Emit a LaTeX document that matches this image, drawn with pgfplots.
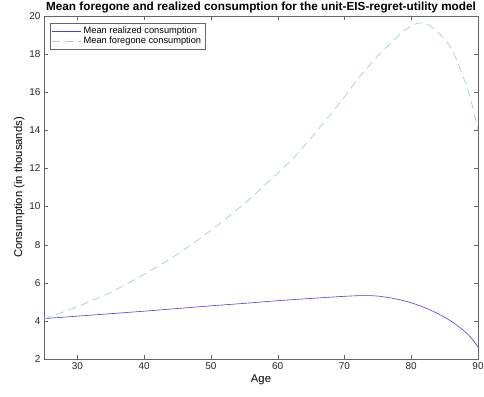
\documentclass[border=0pt]{standalone}
\usepackage{pgfplots}
\pgfplotsset{compat=1.18}
\usepackage{fontspec}
\setmainfont{Liberation Sans}
\definecolor{realc}{rgb}{0.25,0.25,0.92}
\definecolor{forec}{rgb}{0.65,0.79,0.94}
\begin{document}
\begin{tikzpicture}
\begin{axis}[
  scale only axis,
  width=434bp, height=343bp,
  xmin=25, xmax=90, ymin=2, ymax=20,
  xtick={30,40,50,60,70,80,90},
  ytick={2,4,...,20},
  tick align=inside,
  major tick length=4bp,
  axis line style={draw=black!60},
  tick style={draw=black!60},
  every tick label/.style={font=\fontsize{10}{11}\selectfont, text=black!85},
  /pgf/number format/assume math mode=true,
  xlabel={Age},
  ylabel={Consumption (in thousands)},
  label style={font=\fontsize{11.3}{13}\selectfont},
  xlabel style={yshift=2bp},
  ylabel style={yshift=-2bp},
  title={\textbf{Mean foregone and realized consumption for the unit-EIS-regret-utility model}},
  title style={font=\fontsize{11.8}{13}\selectfont, yshift=-6bp},
  legend style={at={(0.014,0.979)}, anchor=north west, font=\fontsize{9.3}{11}\selectfont,
    draw=black!60, inner sep=1.8bp, row sep=-2.5bp, cells={anchor=west}},
  legend image post style={xscale=1.7},
]
\addplot[realc, line width=0.6pt, smooth] coordinates {
(25,4.12) (30,4.25) (35,4.38) (40,4.51) (45,4.65) (50,4.79) (55,4.92) (60,5.06)
(65,5.18) (70,5.29) (73,5.33) (75,5.3) (77,5.2) (79,5.05) (80,4.95) (82,4.7) (84,4.38)
(86,3.98) (88,3.45) (89,3.1) (90,2.62)
};
\addlegendentry{Mean realized consumption}
\addplot[forec, line width=0.7pt, dash pattern=on 8bp off 5bp, smooth] coordinates {
(25,4.1) (30,4.75) (35,5.5) (40,6.45) (45,7.5) (50,8.75) (55,10.15) (60,11.75)
(62.3,12.53) (65,13.6) (67,14.45) (70,15.75) (72,16.7) (75,17.9) (77,18.6)
(79,19.25) (81,19.62) (82.5,19.55) (84,19.15) (86,18.3) (88,16.6) (89,15.5) (90,14.0)
};
\addlegendentry{Mean foregone consumption}
\end{axis}
\pgfresetboundingbox
\path (current axis.south west) ++(-44bp,-37bp) coordinate (bl);
\path (current axis.north east) ++(6bp,16bp) coordinate (tr);
\path[use as bounding box] (bl) rectangle (tr);
\end{tikzpicture}
\end{document}
